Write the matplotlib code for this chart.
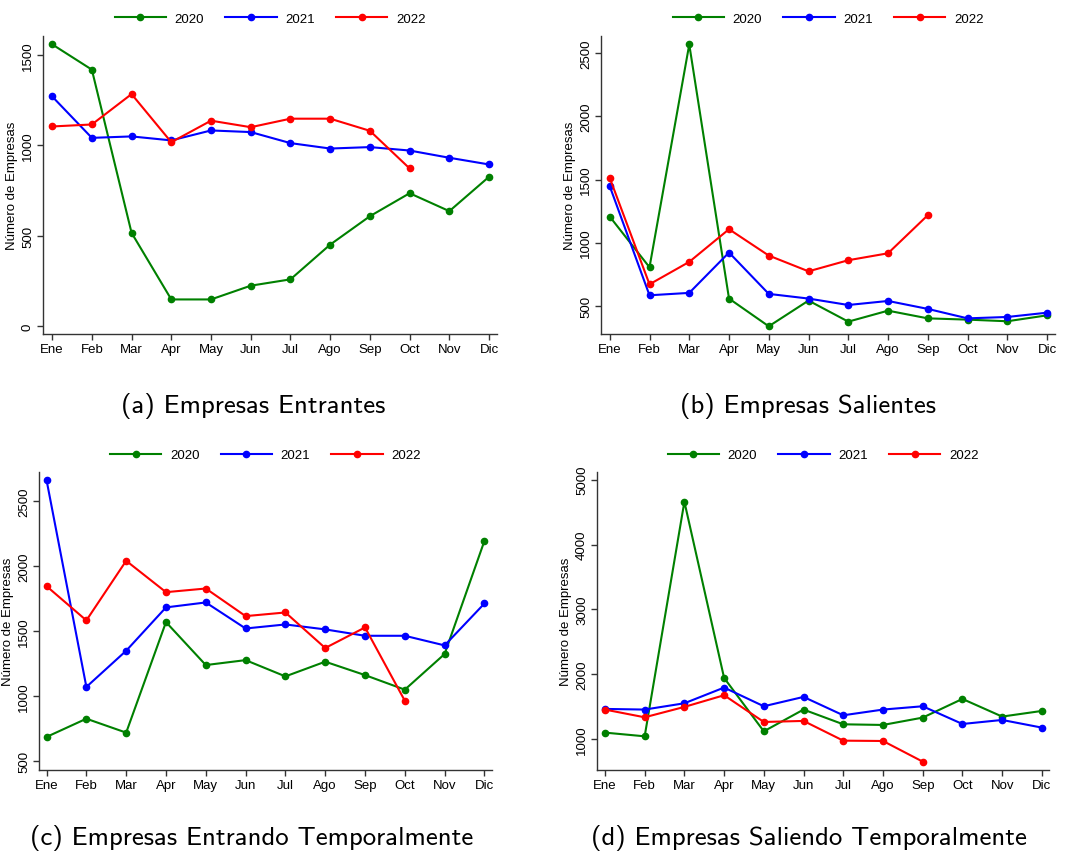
import matplotlib
matplotlib.use("Agg")
import matplotlib.pyplot as plt

meses = ['Ene', 'Feb', 'Mar', 'Apr', 'May', 'Jun', 'Jul', 'Ago', 'Sep', 'Oct', 'Nov', 'Dic']
anios = ['2020', '2021', '2022']
colores = ['#008000', '#0000FF', '#FF0000']

# (a) Empresas Entrantes
entrantes_2020 = [1559, 1419, 517, 149, 149, 225, 260, 452, 609, 736, 637, 827]
entrantes_2021 = [1271, 1042, 1050, 1028, 1083, 1074, 1013, 983, 991, 972, 932, 895]
entrantes_2022 = [1105, 1116, 1284, 1018, 1137, 1101, 1148, 1148, 1081, 873]

# (b) Empresas Salientes
salientes_2020 = [1206, 804, 2571, 556, 336, 540, 373, 460, 399, 389, 376, 423]
salientes_2021 = [1447, 582, 601, 921, 593, 556, 505, 537, 474, 399, 410, 444]
salientes_2022 = [1513, 669, 847, 1106, 897, 772, 860, 915, 1217]

# (c) Empresas Entrando Temporalmente
entrando_temp_2020 = [687, 827, 720, 1569, 1239, 1277, 1152, 1265, 1162, 1050, 1324, 2193]
entrando_temp_2021 = [2659, 1071, 1349, 1682, 1720, 1520, 1551, 1513, 1464, 1464, 1390, 1712]
entrando_temp_2022 = [1845, 1582, 2040, 1799, 1827, 1615, 1643, 1370, 1528, 965]

# (d) Empresas Saliendo Temporalmente
saliendo_temp_2020 = [1103, 1046, 4660, 1946, 1123, 1458, 1231, 1221, 1334, 1622, 1350, 1437]
saliendo_temp_2021 = [1468, 1458, 1555, 1797, 1509, 1653, 1370, 1458, 1509, 1236, 1298, 1180]
saliendo_temp_2022 = [1458, 1339, 1499, 1679, 1267, 1283, 979, 974, 656]

titulos = ['(a) Empresas Entrantes', '(b) Empresas Salientes',
           '(c) Empresas Entrando Temporalmente', '(d) Empresas Saliendo Temporalmente']

W, H = 1068, 854
fig = plt.figure(figsize=(W / 100, H / 100), dpi=100)
plt.rcParams['font.family'] = ['Liberation Sans', 'DejaVu Sans']


def ejes(left, top, right, bottom):
    return fig.add_axes([left / W, 1 - bottom / H, (right - left) / W, (bottom - top) / H])


def panel(ax, series, xlim, ylim, yticks):
    for datos, color, anio in zip(series, colores, anios):
        ax.plot(range(len(datos)), datos, color=color, lw=1.5, marker='o', ms=4.5, label=anio)
    ax.set_xlim(*xlim)
    ax.set_ylim(*ylim)
    ax.set_xticks(range(12))
    ax.set_xticklabels(meses)
    ax.set_yticks(yticks)
    ax.set_yticklabels([str(t) for t in yticks], rotation=90, va='center')
    ax.spines['top'].set_visible(False)
    ax.spines['right'].set_visible(False)
    for s in ['left', 'bottom']:
        ax.spines[s].set_color('#333333')
        ax.spines[s].set_linewidth(1.0)
    ax.tick_params(direction='out', length=4.5, width=1.0, color='#333333', labelsize=9.5, pad=2)
    ax.set_ylabel('Número de Empresas', fontsize=9.5, labelpad=3)
    alto = ax.get_position().height * H
    ax.legend(loc='center', bbox_to_anchor=(0.5, 1 + 17 / alto), ncol=3, frameon=False,
              fontsize=9.5, handlelength=3.9, handletextpad=0.65, columnspacing=1.6)


ax_a = ejes(43, 37, 497, 335)
panel(ax_a, [entrantes_2020, entrantes_2021, entrantes_2022], (-0.23, 11.2), (-42, 1605), [0, 500, 1000, 1500])

ax_b = ejes(601, 37, 1055, 335)
panel(ax_b, [salientes_2020, salientes_2021, salientes_2022], (-0.22, 11.2), (275, 2638), [500, 1000, 1500, 2000, 2500])

ax_c = ejes(39, 473, 492, 771)
panel(ax_c, [entrando_temp_2020, entrando_temp_2021, entrando_temp_2022], (-0.19, 11.19), (433, 2722), [500, 1000, 1500, 2000, 2500])

ax_d = ejes(597, 473, 1049, 771)
panel(ax_d, [saliendo_temp_2020, saliendo_temp_2021, saliendo_temp_2022], (-0.2, 11.18), (527, 5118), [1000, 2000, 3000, 4000, 5000])

posiciones = [(253, 406), (808, 406), (252, 838), (809, 838)]
for texto, (x, y) in zip(titulos, posiciones):
    fig.text(x / W, 1 - y / H, texto, ha='center', va='center', fontsize=19.3, family='cmss10')

fig.savefig('out.png', dpi=100)
